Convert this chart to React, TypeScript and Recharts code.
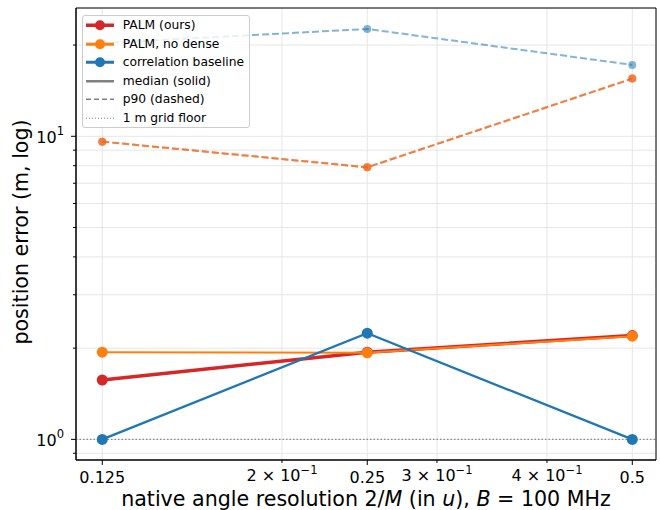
import {
  CartesianGrid,
  Legend,
  Line,
  LineChart,
  ReferenceArea,
  ReferenceLine,
  XAxis,
  YAxis,
} from "recharts";

// angle resolution 2/M, log x
const resolutions = [0.125, 0.25, 0.5];

// median position error (m)
const palmMedian = [1.57, 1.94, 2.2];
const noDenseMedian = [1.94, 1.93, 2.19];
const baselineMedian = [1.0, 2.24, 1.0];

// p90 position error (m)
const palmP90 = [9.6, 7.9, 15.5];
const noDenseP90 = [9.6, 7.9, 15.5];
const baselineP90 = [20.3, 22.6, 17.2];

const xTicks = [0.125, 0.2, 0.25, 0.3, 0.4, 0.5];
const xMajorTicks = [0.125, 0.25, 0.5];
const yTicks = [0.9, 1, 2, 3, 4, 5, 6, 7, 8, 9, 10, 20];
const yMajorTicks = [1, 10];

const RED = "#d62728";
const ORANGE = "#ff7f0e";
const BLUE = "#1f77b4";
const FONT = "DejaVu Sans, sans-serif";

const X_DOMAIN: [number, number] = [0.1167, 0.532];
const Y_DOMAIN: [number, number] = [0.855, 26.5];
const PLOT_LEFT = 76;
const PLOT_BOTTOM = 460;

const data = resolutions.map((x, i) => ({
  x,
  palmMedian: palmMedian[i],
  palmP90: palmP90[i],
  noDenseMedian: noDenseMedian[i],
  noDenseP90: noDenseP90[i],
  baselineMedian: baselineMedian[i],
  baselineP90: baselineP90[i],
}));

const legendItems = [
  { label: "PALM (ours)", color: RED, width: 3.5, dash: undefined, dot: true },
  { label: "PALM, no dense", color: ORANGE, width: 3, dash: undefined, dot: true },
  { label: "correlation baseline", color: BLUE, width: 3, dash: undefined, dot: true },
  { label: "median (solid)", color: "#808080", width: 2.5, dash: undefined, dot: false },
  { label: "p90 (dashed)", color: "#808080", width: 1.5, dash: "5 3", dot: false },
  { label: "1 m grid floor", color: "#808080", width: 1, dash: "1 2", dot: false },
];

const XTick = (props: any) => {
  const { x, payload } = props;
  const v = payload.value as number;
  const major = xMajorTicks.includes(v);
  return (
    <g>
      <line x1={x} x2={x} y1={PLOT_BOTTOM} y2={PLOT_BOTTOM + (major ? 5 : 3)} stroke="#000" />
      {major ? (
        <text x={x} y={482.5} textAnchor="middle" fontSize={16} fill="#000">
          {String(v)}
        </text>
      ) : (
        <text x={x} y={480.5} textAnchor="middle" fontSize={16} fill="#000">
          {`${Math.round(v * 10)} × 10`}
          <tspan dy={-7} fontSize={11.5}>
            −1
          </tspan>
        </text>
      )}
    </g>
  );
};

const YTick = (props: any) => {
  const { y, payload } = props;
  const v = payload.value as number;
  const major = yMajorTicks.includes(v);
  return (
    <g>
      <line x1={PLOT_LEFT - (major ? 5 : 3)} x2={PLOT_LEFT} y1={y} y2={y} stroke="#000" />
      {major && (
        <text x={64} y={y + 6.5} textAnchor="end" fontSize={16} fill="#000">
          10
          <tspan dy={-8} fontSize={11.5}>
            {v === 1 ? "0" : "1"}
          </tspan>
        </text>
      )}
    </g>
  );
};

const XTitle = () => (
  <text x={366} y={505.5} textAnchor="middle" fontSize={20.6} fill="#000">
    native angle resolution 2/<tspan fontStyle="italic">M</tspan> (in{" "}
    <tspan fontStyle="italic">u</tspan>), <tspan fontStyle="italic">B</tspan> = 100 MHz
  </text>
);

const YTitle = () => (
  <text
    transform="translate(28,232) rotate(-90)"
    textAnchor="middle"
    fontSize={20.6}
    fill="#000"
  >
    position error (m, log)
  </text>
);

const LegendBox = () => (
  <div
    style={{
      background: "rgba(255,255,255,0.8)",
      border: "1px solid #cccccc",
      borderRadius: 3,
      width: 168,
      boxSizing: "border-box",
      fontSize: 12.3,
      fontFamily: FONT,
      color: "#000",
    }}
  >
    {legendItems.map((item) => (
      <div
        key={item.label}
        style={{ height: 18.5, display: "flex", alignItems: "center" }}
      >
        <svg width={32} height={18.5} style={{ marginLeft: 2, flex: "none" }}>
          <line
            x1={1}
            x2={29}
            y1={9.25}
            y2={9.25}
            stroke={item.color}
            strokeWidth={item.width}
            strokeDasharray={item.dash}
          />
          {item.dot && <circle cx={15} cy={9.25} r={5} fill={item.color} />}
        </svg>
        <span style={{ marginLeft: 5.7, whiteSpace: "nowrap" }}>{item.label}</span>
      </div>
    ))}
  </div>
);

export default function App() {
  return (
    <div
      style={{
        position: "absolute",
        left: 0,
        top: 0,
        width: 660,
        height: 510,
        background: "#fff",
        fontFamily: FONT,
      }}
    >
      <LineChart
        width={660}
        height={510}
        data={data}
        margin={{ top: 8, right: 4, bottom: 0, left: 0 }}
      >
        <CartesianGrid stroke="#e6e6e6" strokeWidth={1} />
        <XAxis
          dataKey="x"
          type="number"
          scale="log"
          domain={X_DOMAIN}
          allowDataOverflow
          ticks={xTicks}
          interval={0}
          height={50}
          tickLine={false}
          axisLine={{ stroke: "#000" }}
          tick={<XTick />}
          label={() => <XTitle />}
        />
        <YAxis
          type="number"
          scale="log"
          domain={Y_DOMAIN}
          allowDataOverflow
          ticks={yTicks}
          interval={0}
          width={76}
          tickLine={false}
          axisLine={{ stroke: "#000" }}
          tick={<YTick />}
          label={() => <YTitle />}
        />
        <ReferenceLine
          y={1}
          stroke="#8a8a8a"
          strokeWidth={1.2}
          strokeDasharray="1.5 2"
        />
        <Line
          dataKey="palmMedian"
          stroke={RED}
          strokeWidth={3.5}
          dot={{ r: 5.5, fill: RED, stroke: "none" }}
          activeDot={false}
          isAnimationActive={false}
        />
        <Line
          dataKey="palmP90"
          stroke={RED}
          strokeOpacity={0.6}
          strokeWidth={2}
          strokeDasharray="7 3"
          dot={{ r: 4, fill: RED, fillOpacity: 0.6, stroke: "none" }}
          activeDot={false}
          isAnimationActive={false}
        />
        <Line
          dataKey="noDenseMedian"
          stroke={ORANGE}
          strokeWidth={2}
          dot={{ r: 5.5, fill: ORANGE, stroke: "none" }}
          activeDot={false}
          isAnimationActive={false}
        />
        <Line
          dataKey="noDenseP90"
          stroke={ORANGE}
          strokeOpacity={0.6}
          strokeWidth={2}
          strokeDasharray="7 3"
          dot={{ r: 4, fill: ORANGE, fillOpacity: 0.6, stroke: "none" }}
          activeDot={false}
          isAnimationActive={false}
        />
        <Line
          dataKey="baselineMedian"
          stroke={BLUE}
          strokeWidth={2.3}
          dot={{ r: 5.5, fill: BLUE, stroke: "none" }}
          activeDot={false}
          isAnimationActive={false}
        />
        <Line
          dataKey="baselineP90"
          stroke={BLUE}
          strokeOpacity={0.55}
          strokeWidth={2}
          strokeDasharray="7 3"
          dot={{ r: 4, fill: BLUE, fillOpacity: 0.55, stroke: "none" }}
          activeDot={false}
          isAnimationActive={false}
        />
        <ReferenceArea
          x1={X_DOMAIN[0]}
          x2={X_DOMAIN[1]}
          y1={Y_DOMAIN[0]}
          y2={Y_DOMAIN[1]}
          fill="none"
          fillOpacity={0}
          stroke="#000"
          strokeWidth={1}
        />
        <Legend
          layout="horizontal"
          align="center"
          verticalAlign="middle"
          content={() => <LegendBox />}
          wrapperStyle={{ left: 82, top: 15, width: 168, height: 113 }}
        />
      </LineChart>
    </div>
  );
}
